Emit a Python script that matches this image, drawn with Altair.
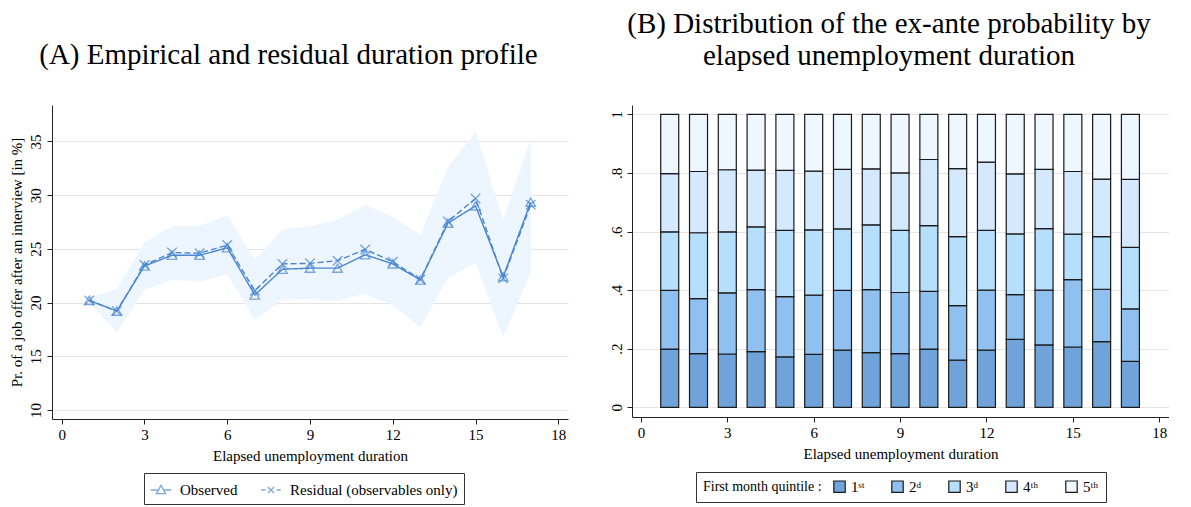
import altair as alt
import pandas as pd

FONT = "Liberation Serif"
BLUE = "#4a86d0"

# ---------------- Panel A data ----------------
months = list(range(1, 18))
observed = [20.2, 19.2, 23.4, 24.4, 24.4, 25.1, 20.7, 23.1, 23.2, 23.2, 24.45, 23.6, 22.1, 27.4, 29.0, 22.4, 29.35]
residual = [20.2, 19.2, 23.5, 24.65, 24.6, 25.35, 21.1, 23.6, 23.65, 23.9, 24.95, 23.8, 22.15, 27.55, 29.7, 22.25, 29.1]
ci_low = [20.0, 17.2, 21.2, 22.1, 21.95, 22.6, 18.4, 20.25, 20.3, 20.2, 20.8, 19.8, 17.7, 22.3, 23.7, 16.8, 22.8]
ci_high = [20.5, 21.25, 25.6, 27.1, 27.15, 28.1, 24.0, 26.8, 27.1, 27.7, 29.1, 28.0, 26.3, 32.6, 35.85, 27.7, 35.2]
series_names = ["Observed", "Residual (observables only)"]

# ---------------- Panel B data ----------------
q1 = [.199, .183, .182, .190, .172, .181, .195, .187, .183, .199, .161, .195, .232, .213, .206, .224, .157]
q2 = [.200, .188, .209, .212, .206, .202, .204, .215, .209, .197, .186, .205, .153, .187, .230, .179, .179]
q3 = [.200, .225, .208, .214, .226, .223, .210, .221, .212, .224, .236, .204, .207, .210, .155, .180, .210]
q4 = [.199, .209, .212, .194, .205, .200, .203, .191, .196, .226, .232, .233, .205, .202, .214, .196, .232]
q5 = [.202, .195, .189, .190, .191, .194, .188, .186, .200, .154, .185, .163, .203, .188, .195, .221, .222]
quintile_labels = ["1ˢᵗ", "2ᵈ", "3ᵈ", "4ᵗʰ", "5ᵗʰ"]
quintile_colors = ["#6fa3da", "#90c0f0", "#b6defd", "#d4e9fd", "#eef6ff"]

# ---------------- tables ----------------
band_df = pd.DataFrame({"month": months, "lo": ci_low, "hi": ci_high})
line_df = pd.concat([
    pd.DataFrame({"month": months, "value": observed, "series": series_names[0]}),
    pd.DataFrame({"month": months, "value": residual, "series": series_names[1]}),
])
legend_df = pd.DataFrame({"month": [-10, -10], "value": [20, 20], "series": series_names})

rows = []
for qi, (lab, vals) in enumerate(zip(quintile_labels, [q1, q2, q3, q4, q5])):
    for m, v in zip(months, vals):
        rows.append({"month": m, "quintile": lab, "qidx": qi, "share": v})
bar_df = pd.DataFrame(rows)

# ---------------- Panel A ----------------
xs_a = alt.Scale(domain=[-0.35, 18.35], nice=False, zero=False, padding=0)
ys_a = alt.Scale(domain=[9.15, 38.4], nice=False, zero=False, padding=0)
x_axis = alt.Axis(values=[0, 3, 6, 9, 12, 15, 18], title="Elapsed unemployment duration",
                  grid=False, labelPadding=3, titlePadding=6)

XPATH = "M-1,-1L1,1M-1,1L1,-1"
OBS_LEG = "M-1,0L-0.26,0M0.26,0L1,0M0,-0.45L0.45,0.35L-0.45,0.35Z"
RES_LEG = "M-0.95,0L-0.55,0M0.55,0L0.95,0M-0.3,-0.3L0.3,0.3M-0.3,0.3L0.3,-0.3"

band = alt.Chart(band_df).mark_area(color="#edf5fe").encode(
    x=alt.X("month:Q", scale=xs_a, axis=x_axis),
    y=alt.Y("lo:Q", scale=ys_a, axis=alt.Axis(
        values=[10, 15, 20, 25, 30, 35], title="Pr. of a job offer after an interview [in %]",
        labelAngle=270, labelAlign="center", labelBaseline="middle", labelPadding=12,
        titlePadding=4, grid=True)),
    y2="hi:Q",
)

lines = alt.Chart(line_df).mark_line(color=BLUE, strokeWidth=1.4).encode(
    x="month:Q", y="value:Q",
    strokeDash=alt.StrokeDash("series:N", scale=alt.Scale(domain=series_names, range=[[1, 0], [6, 3]]), legend=None),
)

points = alt.Chart(line_df).mark_point(color=BLUE, filled=False, strokeWidth=1.4, size=90).encode(
    x="month:Q", y="value:Q",
    shape=alt.Shape("series:N", scale=alt.Scale(domain=series_names, range=["triangle-up", XPATH]), legend=None),
)

leg_a = alt.Chart(legend_df).mark_point(color=BLUE, filled=False, strokeWidth=1.3, clip=True).encode(
    x="month:Q", y="value:Q",
    shape=alt.Shape("series:N", scale=alt.Scale(domain=series_names, range=[OBS_LEG, RES_LEG]),
                    legend=alt.Legend(title=None, orient="none", legendX=92, legendY=368,
                                      direction="horizontal", columns=2, symbolSize=420,
                                      symbolStrokeWidth=1.3, symbolStrokeColor=BLUE,
                                      labelFont=FONT, labelFontSize=15, labelColor="black",
                                      labelLimit=400, labelOffset=8, strokeColor="#333",
                                      padding=6, columnPadding=20)),
)

panel_a = alt.layer(band, lines, points, leg_a).resolve_scale(shape="independent").properties(
    width=516, height=314,
    title=alt.TitleParams("(A) Empirical and residual duration profile", font=FONT, fontSize=29,
                          fontWeight="normal", color="black", offset=35, frame="bounds"),
)

# ---------------- Panel B ----------------
xs_b = alt.Scale(domain=[-0.31, 18.34], nice=False, zero=False, padding=0)
ys_b = alt.Scale(domain=[-0.033, 1.032], nice=False, zero=False, padding=0)

bars = alt.Chart(bar_df).mark_bar(size=18, stroke="#1a1a1a", strokeWidth=1.2).encode(
    x=alt.X("month:Q", scale=xs_b, axis=x_axis),
    y=alt.Y("share:Q", stack="zero", scale=ys_b, axis=alt.Axis(
        values=[0, 0.2, 0.4, 0.6, 0.8, 1], title=None,
        labelExpr="datum.value == 0 ? '0' : datum.value >= 0.999 ? '1' : replace(format(datum.value, '.1f'), '0.', '.')",
        labelAngle=270, labelAlign="center", labelBaseline="middle", labelPadding=11, grid=True)),
    fill=alt.Fill("quintile:N", scale=alt.Scale(domain=quintile_labels, range=quintile_colors),
                  legend=alt.Legend(title="First month quintile :", titleOrient="left", orient="none",
                                    legendX=64, legendY=367, direction="horizontal", columns=5,
                                    symbolType="square", symbolSize=130, symbolStrokeColor="#1a1a1a",
                                    symbolStrokeWidth=1.2, labelFont=FONT, labelFontSize=15,
                                    labelColor="black", titleFont=FONT, titleFontSize=14,
                                    titleFontWeight="normal", titleColor="black", titlePadding=10,
                                    strokeColor="#333", padding=7, columnPadding=24)),
    order=alt.Order("qidx:Q", sort="ascending"),
)

panel_b = bars.properties(
    width=537, height=312,
    title=alt.TitleParams(["(B) Distribution of the ex-ante probability by", "elapsed unemployment duration"],
                          font=FONT, fontSize=29, fontWeight="normal", color="black", offset=34,
                          lineHeight=32, frame="bounds"),
)

chart = alt.hconcat(panel_a, panel_b, spacing=40).resolve_scale(
    x="independent", y="independent", fill="independent", shape="independent"
).properties(padding={"left": 0, "top": 2, "right": 0, "bottom": 0}).configure_view(stroke=None).configure_axis(
    labelFont=FONT, titleFont=FONT, labelFontSize=15, titleFontSize=15, titleFontWeight="normal",
    labelColor="black", titleColor="black", domainColor="#222", tickColor="#222", tickSize=5,
    gridColor="#e4e4e4", gridWidth=1.2,
)

chart.save("out.html", embed_options={"renderer": "svg", "actions": False})
